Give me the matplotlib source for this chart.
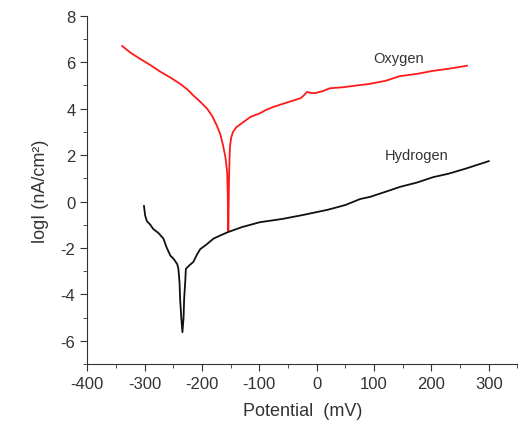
import matplotlib.pyplot as plt
from matplotlib.ticker import MultipleLocator

plt.rcParams['font.family'] = ['Liberation Sans', 'DejaVu Sans']
plt.rcParams['axes.unicode_minus'] = False

# oxygen curve (red)
oxy_x = [-339, -325, -308, -290, -273, -255, -238, -225, -215, -203, -191, -182, -174, -168,
         -163, -159, -156, -155, -154, -153, -152, -151, -149, -146, -140, -128, -115, -99,
         -88, -76, -60, -41, -28, -22, -17, -10, -3, 10, 23, 45, 70, 93, 120, 145, 175, 203, 230, 250, 262]
oxy_y = [6.7, 6.42, 6.15, 5.88, 5.6, 5.34, 5.07, 4.82, 4.57, 4.3, 4.0, 3.68, 3.27, 2.9,
         2.4, 1.9, 1.26, 0.3, -1.3, 0.6, 1.8, 2.4, 2.75, 2.99, 3.2, 3.42, 3.65, 3.8,
         3.95, 4.07, 4.2, 4.35, 4.45, 4.58, 4.72, 4.68, 4.67, 4.75, 4.88, 4.92, 5.0, 5.07, 5.2, 5.4, 5.5, 5.63, 5.72, 5.8, 5.85]

# hydrogen curve (black)
hyd_x = [-301, -299, -296, -290, -285, -276, -267, -262, -255, -250, -247, -243, -241, -239,
         -238, -236, -234, -232, -231, -229, -228, -222, -215, -209, -203, -192, -180, -167,
         -154, -130, -99, -60, -24, 20, 50, 76, 93, 120, 145, 175, 203, 230, 260, 300]
hyd_y = [-0.19, -0.6, -0.84, -1.0, -1.18, -1.35, -1.6, -1.95, -2.33, -2.45, -2.55, -2.7, -2.9, -3.5,
         -4.2, -5.0, -5.63, -5.0, -4.2, -3.4, -2.9, -2.75, -2.6, -2.3, -2.05, -1.85, -1.6, -1.45,
         -1.31, -1.1, -0.89, -0.75, -0.58, -0.35, -0.15, 0.11, 0.2, 0.42, 0.63, 0.82, 1.05, 1.2, 1.42, 1.74]

fig = plt.figure(figsize=(5.19, 4.31), dpi=100)
ax = fig.add_axes([0.168, 0.153, 0.829, 0.808])

ax.plot(oxy_x, oxy_y, color='#ff1a1a', lw=1.3)
ax.plot(hyd_x, hyd_y, color='#111111', lw=1.3)

ax.text(142, 6.2, 'Oxygen', fontsize=10.5, color='#333333', ha='center', va='center')
ax.text(175, 2.0, 'Hydrogen', fontsize=10.5, color='#333333', ha='center', va='center')

ax.set_xlim(-400, 350)
ax.set_ylim(-7, 8)
ax.xaxis.set_minor_locator(MultipleLocator(50))
ax.yaxis.set_major_locator(MultipleLocator(2))
ax.yaxis.set_minor_locator(MultipleLocator(1))
ax.set_xticks(range(-400, 301, 100))

ax.spines['top'].set_visible(False)
ax.spines['right'].set_visible(False)
for s in ('left', 'bottom'):
    ax.spines[s].set_color('#333333')
ax.tick_params(which='major', length=5, labelsize=12, colors='#333333')
ax.tick_params(which='minor', length=3, colors='#333333')

ax.set_xlabel('Potential  (mV)', fontsize=13, color='#333333', labelpad=8)
ax.set_ylabel('logI (nA/cm²)', fontsize=13, color='#333333', labelpad=8)

fig.savefig('out.png', dpi=100)
